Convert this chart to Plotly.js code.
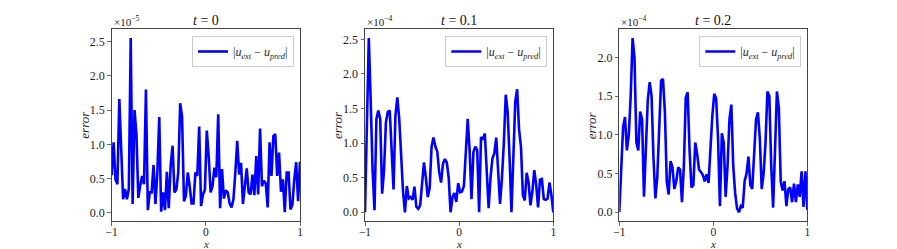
<!DOCTYPE html>
<html>
<head>
<meta charset="utf-8">
<script src="https://cdn.plot.ly/plotly-3.0.1.min.js"></script>
<style>html,body{margin:0;padding:0;background:#fff;}#plot{width:897px;height:249px;}</style>
</head>
<body>
<div id="plot"></div>
<script>
// error values, in units of the axis multiplier shown at the top of each panel
const err_t0 = [0.55,1.03,0.49,0.42,1.66,0.88,0.2,0.35,0.2,0.35,2.55,0.13,1.5,1.15,0.22,0.4,0.54,0.42,1.8,0.04,
  0.3,0.3,0.7,0.13,0.59,1.4,0.02,0.3,0.04,0.6,0.07,0.69,0.98,0.3,0.34,0.59,1.6,1.4,0.17,0.25,
  0.59,0.39,0.14,0.14,0.59,0.54,1.26,0.1,0.27,0.34,1.2,0.83,0.3,0.39,0.66,0.52,1.44,0.07,0.64,0.21,
  0.33,0.3,0.14,0.08,0.2,0.59,1.05,0.56,0.73,0.13,0.39,0.65,0.3,0.27,0.56,0.26,0.83,0.27,1.23,0.39,
  0.47,0.43,0.08,1.03,0.54,1.12,1.15,0.54,0.88,0.31,0.49,0.01,0.59,0.59,0.05,0.12,0.49,0.74,0.17,0.75];
const err_t01 = [0.0,1.3,2.52,1.6,0.6,0.03,1.35,1.47,1.35,0.27,0.6,1.3,1.45,1.47,0.8,0.33,1.4,1.66,1.35,0.8,
  0.3,0.0,0.38,0.2,0.22,0.18,0.37,0.08,0.05,0.1,0.45,0.72,0.5,0.22,0.35,0.95,1.08,0.95,0.88,0.58,
  0.43,0.7,0.77,0.72,0.5,0.0,0.22,0.28,0.15,0.42,0.29,0.3,0.38,0.9,1.35,0.9,0.19,0.87,0.95,0.9,
  0.0,1.09,1.05,1.14,0.55,0.06,0.5,0.78,0.85,1.08,0.6,0.12,0.5,1.0,1.7,1.45,0.8,0.0,0.8,1.6,
  1.78,1.2,0.95,0.25,0.17,0.57,0.43,0.1,0.3,0.61,0.4,0.07,0.47,0.48,0.19,0.18,0.2,0.43,0.25,0.0];
const err_t02 = [0.0,0.55,1.1,1.23,0.8,1.0,1.5,2.25,2.0,0.9,0.8,1.3,1.2,0.2,0.9,1.45,1.68,1.5,0.7,0.18,
  0.45,1.2,1.7,1.72,1.3,0.4,0.23,0.66,0.58,0.3,0.4,0.58,0.55,0.13,0.6,1.48,1.55,0.8,0.32,0.35,
  0.9,0.75,0.55,0.52,0.48,0.4,0.49,0.38,0.9,1.25,1.53,1.47,0.95,0.08,1.02,0.9,0.2,0.6,1.2,1.39,
  0.6,0.25,0.05,0.0,0.08,0.06,0.4,0.5,0.72,0.35,0.3,0.8,1.2,1.29,0.95,0.3,0.5,0.9,1.56,1.5,
  0.6,0.06,0.8,1.56,1.35,0.4,0.28,0.4,0.08,0.3,0.32,0.13,0.37,0.13,0.36,0.2,0.53,0.07,0.53,0.03];
const panelTitles = ["<i>t</i> = 0", "<i>t</i> = 0.1", "<i>t</i> = 0.2"];
const multipliers = ["×10<sup>−5</sup>", "×10<sup>−4</sup>", "×10<sup>−4</sup>"];
const yTicks = [[0,0.5,1,1.5,2,2.5],[0,0.5,1,1.5,2,2.5],[0,0.5,1,1.5,2]];
const xTicks = [-1, 0, 1];
const legendName = "|<i>u</i><sub><i>ext</i></sub> − <i>u</i><sub><i>pred</i></sub>|";

const series = [err_t0, err_t01, err_t02];
const W = 897, H = 249;
const axL = [111.7, 365, 619.3], axR = [300, 553.3, 807.3];
const axTop = 29.3, axBot = 221;
const serif = "Liberation Serif, DejaVu Serif, serif";

const traces = [], annotations = [];
const layout = {
  width: W, height: H, margin: {l:0, r:0, t:0, b:0},
  paper_bgcolor: "#fff", plot_bgcolor: "#fff",
  showlegend: true, font: {family: serif, size: 12, color: "#222"}
};
series.forEach((ys, k) => {
  const n = ys.length;
  const xs = ys.map((_, i) => -1 + 2 * i / (n - 1));
  const sfx = k === 0 ? "" : String(k + 1);
  const ymin = Math.min(...ys), ymax = Math.max(...ys), pad = 0.05 * (ymax - ymin);
  traces.push({
    x: xs, y: ys, xaxis: "x" + sfx, yaxis: "y" + sfx, type: "scatter", mode: "lines",
    line: {color: "#0000ff", width: 2.6}, name: legendName,
    legend: "legend" + sfx, hoverinfo: "skip"
  });
  const common = {showgrid: false, zeroline: false, showline: true, mirror: true,
    linecolor: "#444", linewidth: 1, ticks: "outside", ticklen: 3.5, tickwidth: 0.8,
    tickcolor: "#444", tickfont: {family: serif, size: 12, color: "#222"}};
  layout["xaxis" + sfx] = Object.assign({}, common, {
    domain: [axL[k] / W, axR[k] / W], range: [-1, 1], anchor: "y" + sfx,
    ticklabelstandoff: -3, tickfont: {family: serif, size: 11.5, color: "#222"},
    tickvals: xTicks, ticktext: xTicks.map(v => v < 0 ? "−" + Math.abs(v) : String(v))
  });
  layout["yaxis" + sfx] = Object.assign({}, common, {
    domain: [1 - axBot / H, 1 - axTop / H], range: [ymin - pad, ymax + pad], anchor: "x" + sfx,
    tickvals: yTicks[k], ticktext: yTicks[k].map(v => v.toFixed(1))
  });
  layout["legend" + sfx] = {
    x: (axR[k] - 6) / W, xanchor: "right", y: 1 - 36 / H, yanchor: "top",
    xref: "paper", yref: "paper", bgcolor: "rgba(255,255,255,0.8)",
    bordercolor: "#ccc", borderwidth: 1, font: {family: serif, size: 12, color: "#222"}
  };
  const cx = (axL[k] + axR[k]) / 2 / W;
  annotations.push({text: panelTitles[k], x: cx, y: 1 - 20 / H, xref: "paper", yref: "paper",
    showarrow: false, xanchor: "center", yanchor: "middle", font: {family: serif, size: 14, color: "#111"}});
  annotations.push({text: multipliers[k], x: axL[k] / W, y: 1 - 21 / H, xref: "paper", yref: "paper",
    showarrow: false, xanchor: "left", yanchor: "middle", font: {family: serif, size: 11, color: "#222"}});
  annotations.push({text: "<i>error</i>", x: (axL[k] - 28) / W, y: 1 - 125 / H, xref: "paper", yref: "paper",
    showarrow: false, textangle: -90, xanchor: "center", yanchor: "middle", font: {family: serif, size: 13, color: "#222"}});
  annotations.push({text: "<i>x</i>", x: cx, y: 1 - 243.5 / H, xref: "paper", yref: "paper",
    showarrow: false, xanchor: "center", yanchor: "middle", font: {family: serif, size: 11, color: "#222"}});
});
layout.annotations = annotations;
Plotly.newPlot("plot", traces, layout, {staticPlot: true, displayModeBar: false});
</script>
</body>
</html>
